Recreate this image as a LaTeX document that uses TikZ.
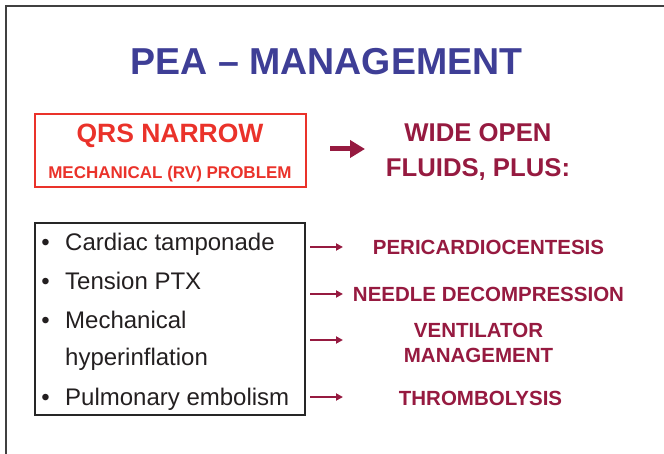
\documentclass[tikz,border=0pt]{standalone}
\usepackage{fontspec}
\setmainfont{Liberation Sans}
\usepackage{tikz}
\usetikzlibrary{arrows.meta, positioning}
\definecolor{titleblue}{RGB}{62,62,150}
\definecolor{qrsred}{RGB}{234,50,42}
\definecolor{maroon}{RGB}{150,26,64}
\definecolor{itemgray}{RGB}{35,31,32}

\begin{document}
\begin{tikzpicture}[x=1pt, y=-1pt,
  heading/.style={font=\fontsize{37.5}{40}\selectfont\bfseries, text=titleblue, inner sep=0pt, anchor=base},
  redtxt/.style={text=qrsred, inner sep=0pt, anchor=base},
  redbox/.style={rectangle, draw=qrsred, line width=1.8pt, minimum width=271pt, minimum height=73pt, inner sep=0pt},
  itembox/.style={rectangle, draw=black!85, line width=1.1pt, minimum width=270pt, minimum height=192pt, inner sep=0pt},
  item/.style={font=\fontsize{24}{26}\selectfont, text=itemgray, inner sep=0pt, anchor=base west},
  dot/.style={font=\fontsize{24}{26}\selectfont, text=itemgray, inner sep=0pt, anchor=base},
  action/.style={font=\fontsize{20.5}{25}\selectfont\bfseries, text=maroon, inner sep=0pt, align=center},
  arr/.style={-{Triangle[length=7pt, width=7pt]}, line width=2pt, maroon},
  bigarr/.style={-{Triangle[length=15pt, width=17pt]}, line width=5pt, maroon}
]
  \useasboundingbox (0,0) rectangle (664,454);

  % slide frame
  \coordinate (fbl) at (6,454);
  \coordinate (ftl) at (6,6);
  \coordinate (ftr) at (664,6);
  \draw[line width=1.4pt, black!75] (fbl) -- (ftl) -- (ftr);

  \node[heading] (title) at (326.5,75) {PEA -- MANAGEMENT};

  % top row
  \node[redbox] (qrsbox) at (170.5,150.5) {};
  \node[redtxt, font=\fontsize{26.5}{30}\selectfont\bfseries] (qrs) at (170,143) {QRS NARROW};
  \node[redtxt, font=\fontsize{17}{20}\selectfont\bfseries] (mech) at (170,178.5) {MECHANICAL (RV) PROBLEM};

  \node[action, font=\fontsize{25.7}{35}\selectfont\bfseries] (fluids) at (478,152) {WIDE OPEN\\FLUIDS, PLUS:};

  \coordinate (bs) at (330,149);
  \coordinate (be) at (365,149);
  \draw[bigarr] (bs) -- (be);

  % causes
  \node[itembox] (causes) at (170,319) {};
  \foreach \y/\t [count=\i] in {251/Cardiac tamponade, 290/Tension PTX, 329/Mechanical, 405/Pulmonary embolism}{
    \node[dot] (b\i) at (45.5,\y) {\textbullet};
    \node[item] (c\i) at (65,\y) {\t};
  }
  \node[item] (c3b) at (65,365) {hyperinflation};

  % treatments
  \node[action, anchor=base] (t1) at (488.5,255) {PERICARDIOCENTESIS};
  \node[action, anchor=base] (t2) at (488.5,302) {NEEDLE DECOMPRESSION};
  \node[action] (t3) at (478.5,343) {VENTILATOR\\MANAGEMENT};
  \node[action, anchor=base] (t4) at (480.5,405) {THROMBOLYSIS};

  \foreach \y/\n in {247/1, 294/2, 340/3, 397/4}{
    \coordinate (s\n) at (310,\y);
    \coordinate (e\n) at (343,\y);
    \draw[arr] (s\n) -- (e\n);
  }
\end{tikzpicture}
\end{document}
